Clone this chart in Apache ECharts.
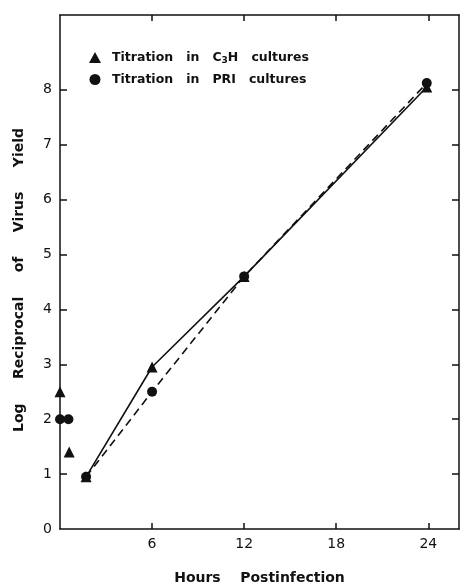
<!DOCTYPE html>
<html>
<head>
<meta charset="utf-8">
<script src="https://cdn.jsdelivr.net/npm/echarts@6/dist/echarts.min.js"></script>
<style>html,body{margin:0;padding:0;background:#fff}#c{width:461px;height:584px}</style>
</head>
<body>
<div id="c"></div>
<script>
// Titration in C3H cultures (triangles), connected points
const c3hHours = [1.7, 6, 12, 23.9];
const c3hValues = [0.95, 2.95, 4.6, 8.05];
// C3H isolated early points
const c3hEarlyHours = [0, 0.6];
const c3hEarlyValues = [2.5, 1.4];
// Titration in PRI cultures (circles), connected points
const priHours = [1.7, 6, 12, 23.9];
const priValues = [0.95, 2.5, 4.6, 8.12];
// PRI isolated early points
const priEarlyHours = [0, 0.55];
const priEarlyValues = [2.0, 2.0];
// ticks
const xTickLabels = [6, 12, 18, 24];
const yTickLabels = [0, 1, 2, 3, 4, 5, 6, 7, 8];

const zip = (a, b) => a.map((v, i) => [v, b[i]]);
const font = 'DejaVu Sans';

const chart = echarts.init(document.getElementById('c'));
chart.setOption({
  backgroundColor: '#fff',
  animation: false,
  grid: { left: 60, right: 2, top: 15, bottom: 55, outerBoundsMode: 'none', containLabel: false },
  legend: {
    left: 84, top: 46, orient: 'vertical', itemGap: 8,
    itemWidth: 12, itemHeight: 11,
    data: [{ name: 'C3H', icon: 'triangle' }, { name: 'PRI', icon: 'circle' }],
    formatter: n => n === 'C3H' ? 'Titration   in   C{sub|3}H   cultures' : 'Titration   in   PRI   cultures',
    textStyle: {
      fontFamily: font, fontSize: 12.5, fontWeight: 'bold', color: '#111', padding: [0, 0, 0, 6],
      rich: { sub: { fontFamily: font, fontSize: 9, fontWeight: 'bold', verticalAlign: 'bottom', padding: [6, 0, 0, 0], color: '#111' } }
    }
  },
  xAxis: [{
    type: 'value', min: 0, max: 26, interval: 6,
    name: 'Hours    Postinfection', nameLocation: 'middle', nameGap: 42,
    nameTextStyle: { fontFamily: font, fontSize: 14, fontWeight: 'bold', color: '#111' },
    axisLine: { show: true, lineStyle: { color: '#111', width: 1.5 } },
    axisTick: { inside: true, length: 6, customValues: xTickLabels, lineStyle: { color: '#111', width: 1.5 } },
    axisLabel: { customValues: xTickLabels, margin: 8, fontFamily: font, fontSize: 14, color: '#111' },
    splitLine: { show: false }
  }, {
    type: 'value', position: 'top', min: 0, max: 26, interval: 6,
    axisLine: { show: true, onZero: false, lineStyle: { color: '#111', width: 1.5 } },
    axisTick: { inside: true, length: 6, customValues: xTickLabels, lineStyle: { color: '#111', width: 1.5 } },
    axisLabel: { show: false }, splitLine: { show: false }
  }],
  yAxis: [{
    type: 'value', min: 0, max: 9.36, interval: 1,
    name: 'Log     Reciprocal     of     Virus     Yield', nameLocation: 'middle', nameGap: 34, nameRotate: 90,
    nameTextStyle: { fontFamily: font, fontSize: 14, fontWeight: 'bold', color: '#111', padding: [0, 16, 0, 0] },
    axisLine: { show: true, lineStyle: { color: '#111', width: 1.5 } },
    axisTick: { show: true, inside: true, length: 7, customValues: [1, 2, 3, 4, 5, 6, 7, 8], lineStyle: { color: '#111', width: 1.5 } },
    axisLabel: { customValues: yTickLabels, margin: 8, fontFamily: font, fontSize: 14, color: '#111' },
    splitLine: { show: false }
  }, {
    type: 'value', position: 'right', min: 0, max: 9.36, interval: 1,
    axisLine: { show: true, onZero: false, lineStyle: { color: '#111', width: 1.5 } },
    axisTick: { show: true, inside: true, length: 7, customValues: [1, 2, 3, 4, 5, 6, 7, 8], lineStyle: { color: '#111', width: 1.5 } },
    axisLabel: { show: false }, splitLine: { show: false }
  }],
  series: [
    {
      name: 'C3H', type: 'line', data: zip(c3hHours, c3hValues),
      symbol: 'triangle', symbolSize: 11,
      itemStyle: { color: '#111', opacity: 1 }, lineStyle: { color: '#111', width: 1.6, type: 'solid' }
    },
    {
      name: 'C3H', type: 'scatter', data: zip(c3hEarlyHours, c3hEarlyValues),
      symbol: 'triangle', symbolSize: 11, itemStyle: { color: '#111', opacity: 1 }
    },
    {
      name: 'PRI', type: 'line', data: zip(priHours, priValues),
      symbol: 'circle', symbolSize: 10,
      itemStyle: { color: '#111', opacity: 1 }, lineStyle: { color: '#111', width: 1.6, type: [8, 5] }
    },
    {
      name: 'PRI', type: 'scatter', data: zip(priEarlyHours, priEarlyValues),
      symbol: 'circle', symbolSize: 10, itemStyle: { color: '#111', opacity: 1 }
    }
  ]
});
</script>
</body>
</html>
